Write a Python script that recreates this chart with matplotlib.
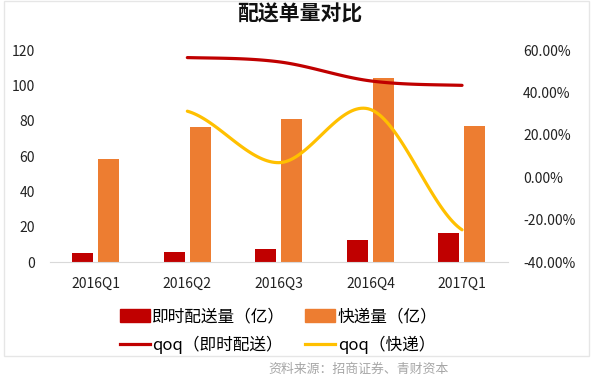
import numpy as np
import matplotlib.pyplot as plt
from matplotlib.patches import Rectangle, Patch
from matplotlib.lines import Line2D

plt.rcParams['font.family'] = ['Noto Sans CJK SC', 'DejaVu Sans']

quarters = ['2016Q1', '2016Q2', '2016Q3', '2016Q4', '2017Q1']
instant = [4.9, 5.9, 7.4, 12.5, 16.2]        # 即时配送量（亿）
express = [58.6, 76.6, 81.2, 104.4, 77.3]    # 快递量（亿）
qoq_instant = [56.5, 54.5, 45.5, 43.4]       # 2016Q2 - 2017Q1, %
qoq_express = [31.2, 6.9, 32.0, -24.8]

red = '#C00000'
orange = '#ED7D31'
yellow = '#FFC000'


def smooth(xs, ys, n=40):
    # Catmull-Rom style curve, like the smoothed lines in Excel
    xs = np.asarray(xs, float)
    ys = np.asarray(ys, float)
    m = np.zeros_like(ys)
    m[1:-1] = (ys[2:] - ys[:-2]) / 2
    m[0] = (ys[1] - ys[0]) / 2
    m[-1] = (ys[-1] - ys[-2]) / 2
    out_x, out_y = [], []
    for i in range(len(xs) - 1):
        t = np.linspace(0, 1, n)
        h00 = 2 * t**3 - 3 * t**2 + 1
        h10 = t**3 - 2 * t**2 + t
        h01 = -2 * t**3 + 3 * t**2
        h11 = t**3 - t**2
        out_x.extend(xs[i] + t * (xs[i + 1] - xs[i]))
        out_y.extend(h00 * ys[i] + h10 * m[i] + h01 * ys[i + 1] + h11 * m[i + 1])
    return np.array(out_x), np.array(out_y)


fig = plt.figure(figsize=(6.06, 3.86), dpi=100)
ax = fig.add_axes([0.0825, 0.3212, 0.7555, 0.5488])

x = np.arange(len(quarters))
ax.bar(x - 0.145, instant, width=0.23, color=red)
ax.bar(x + 0.14, express, width=0.23, color=orange)

ax.set_xlim(-0.5, 4.5)
ax.set_ylim(0, 120)
ax.set_yticks(range(0, 121, 20))
ax.set_xticks(x)
ax.set_xticklabels(quarters)
for s in ['top', 'right', 'left']:
    ax.spines[s].set_visible(False)
ax.spines['bottom'].set_color('#d9d9d9')
ax.tick_params(axis='both', length=0, labelsize=10, colors='#222222')
ax.tick_params(axis='y', pad=11)
ax.tick_params(axis='x', pad=11)

ax2 = ax.twinx()
ax2.set_ylim(-40, 60)
ax2.set_yticks(range(-40, 61, 20))
ax2.set_yticklabels(['%.2f%%' % v for v in range(-40, 61, 20)])
for s in ax2.spines.values():
    s.set_visible(False)
ax2.tick_params(axis='y', length=0, labelsize=10, colors='#222222', pad=11)

lx, ly = smooth(x[1:], qoq_instant)
ax2.plot(lx, ly, color=red, lw=2.3, solid_capstyle='round')
lx, ly = smooth(x[1:], qoq_express)
ax2.plot(lx, ly, color=yellow, lw=2.3, solid_capstyle='round')

fig.text(0.494, 0.965, '配送单量对比', ha='center', va='center',
         fontsize=15, fontweight='bold', color='#111111')

handles = [Patch(color=red), Line2D([], [], color=red, lw=2.3),
           Patch(color=orange), Line2D([], [], color=yellow, lw=2.3)]
labels = ['即时配送量（亿）', 'qoq（即时配送）', '快递量（亿）', 'qoq（快递）']
fig.legend(handles, labels, ncol=2, loc='center', bbox_to_anchor=(0.46, 0.142),
           frameon=False, fontsize=12, handlelength=1.8, handleheight=0.8,
           handletextpad=0.15, columnspacing=1.2, labelspacing=0.6)

fig.text(0.443, 0.044, '资料来源：招商证券、青财资本', ha='left', va='center',
         fontsize=9.3, color='#a6a6a6')

fig.patches.append(Rectangle((4 / 606, 1 - 356 / 386), 585 / 606, 355 / 386,
                             transform=fig.transFigure, fill=False,
                             edgecolor='#e6e6e6', lw=1))

fig.savefig('out.png', dpi=100)
